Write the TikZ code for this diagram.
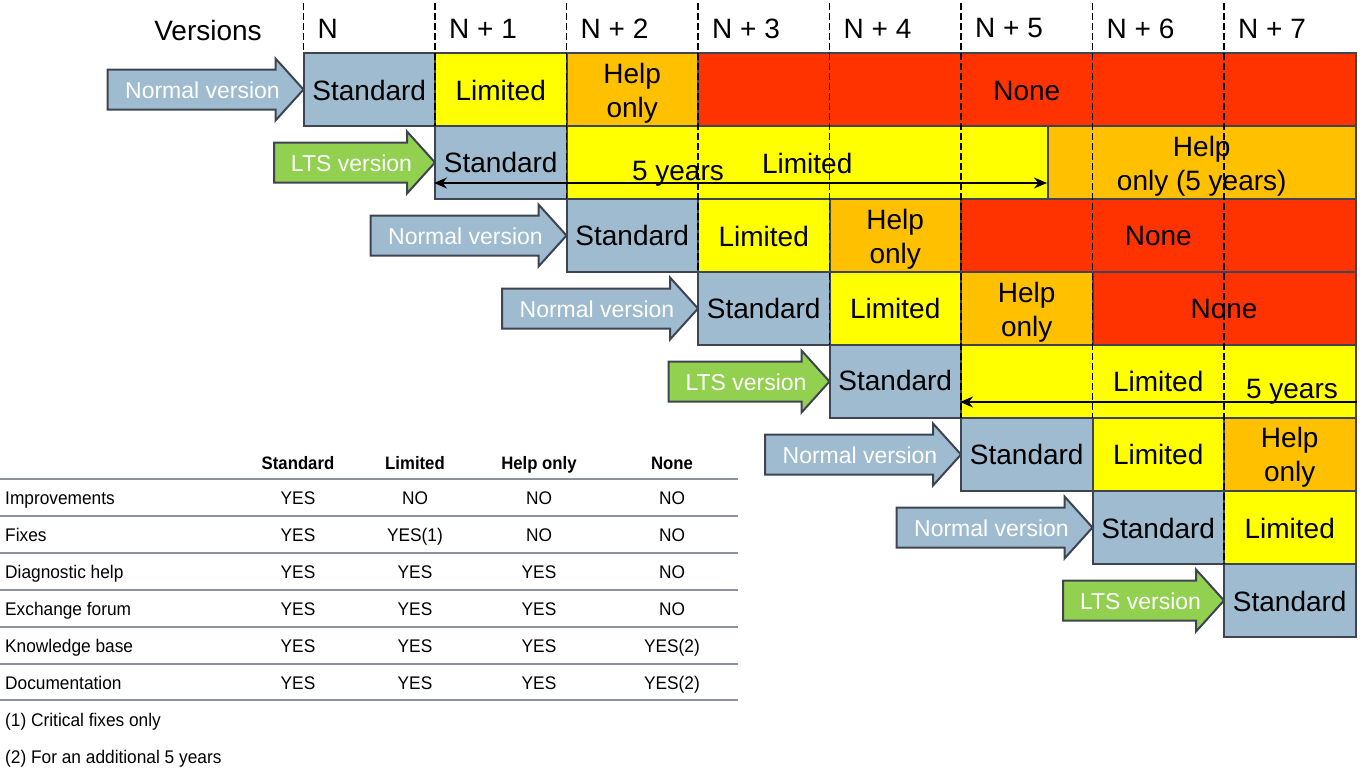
\documentclass[tikz,border=0pt]{standalone}
\usepackage{fontspec}
\setmainfont{Liberation Sans}
\newfontfamily\tabfont[FakeStretch=0.945]{Liberation Sans}
\newfontfamily\tabheadfont[FakeStretch=0.93]{Liberation Sans}
\usetikzlibrary{arrows.meta}
\definecolor{stdblue}{RGB}{158,187,208}
\definecolor{ltsgreen}{RGB}{146,208,80}
\definecolor{limyellow}{RGB}{255,255,0}
\definecolor{helporange}{RGB}{255,192,0}
\definecolor{nonered}{RGB}{255,51,0}
\definecolor{edgegray}{RGB}{62,68,82}
\definecolor{rulegray}{RGB}{140,146,156}
\tikzset{
  cellbox/.style={draw=edgegray, line width=2pt, minimum height=73pt, inner sep=0pt},
  celltext/.style={align=center, text=black, inner sep=0pt, font=\fontsize{28}{34}\selectfont},
  arrowbody/.style={draw=edgegray, line width=2pt},
  arrowtext/.style={text=white, font=\fontsize{23}{27}\selectfont, inner sep=0pt},
  bigtext/.style={text=black, font=\fontsize{28}{34}\selectfont, inner sep=0pt},
  vguide/.style={black, line width=1.4pt, dash pattern=on 6.5pt off 3.5pt},
  spanarrow/.style={black, line width=2pt},
  tabtext/.style={font=\tabfont\fontsize{18.3}{22}\selectfont, inner sep=0pt, anchor=base},
  tabhead/.style={font=\tabheadfont\bfseries\fontsize{18}{22}\selectfont, inner sep=0pt, anchor=base},
  tabrule/.style={draw=rulegray, line width=2pt}
}
% cell: name, from column, to column, row, colour, text, text shift
\newcommand\cell[7]{%
  \pgfmathsetmacro\cxa{303.5+131.5*#2}%
  \pgfmathsetmacro\cxb{303.5+131.5*#3}%
  \pgfmathsetmacro\cxm{(\cxa+\cxb)/2}%
  \pgfmathsetmacro\cy{53+73*#4+36.5}%
  \pgfmathsetmacro\cw{\cxb-\cxa}%
  \node[cellbox, fill=#5, minimum width=\cw pt] (#1) at (\cxm,\cy) {};
  \node[celltext] (#1t) at (\cxm,\cy+#7) {#6};}
% version arrow: name, column of tip, row, length, colour, text
\newcommand\verarrow[6]{%
  \pgfmathsetmacro\tx{303.5+131.5*#2}%
  \pgfmathsetmacro\ty{53+73*#3+36.5}%
  \pgfmathsetmacro\sx{\tx-#4}%
  \pgfmathsetmacro\hx{\tx-28}%
  \draw[arrowbody, fill=#5] (\sx,\ty-20) -- (\hx,\ty-20) -- (\hx,\ty-31) -- (\tx,\ty)
     -- (\hx,\ty+31) -- (\hx,\ty+20) -- (\sx,\ty+20) -- cycle;
  \node[arrowtext] (#1) at (\tx-#4/2-3,\ty+1) {#6};}
\begin{document}
\begin{tikzpicture}[x=1pt,y=-1pt]
\useasboundingbox (0,0) rectangle (1369,780);
\fill[white] (0,0) rectangle (1369,780);

% header
\node[bigtext] (versions) at (208,30) {Versions};
\foreach \k/\lab in {0/N,1/N + 1,2/N + 2,3/N + 3,4/N + 4,5/N + 5,6/N + 6,7/N + 7}{
  \node[bigtext, anchor=west] (lab\k) at (303.5+131.5*\k+14,28.5) {\lab};
}

% row 1
\verarrow{a1}{0}{0}{196}{stdblue}{Normal version}
\cell{r1s}{0}{1}{0}{stdblue}{Standard}{1}
\cell{r1l}{1}{2}{0}{limyellow}{Limited}{1}
\cell{r1h}{2}{3}{0}{helporange}{Help\\only}{4}
\cell{r1n}{3}{8}{0}{nonered}{None}{1}
% row 2
\verarrow{a2}{1}{1}{161}{ltsgreen}{LTS version}
\cell{r2s}{1}{2}{1}{stdblue}{Standard}{0}
\cell{r2l}{2}{5.6616}{1}{limyellow}{Limited}{0.5}
\cell{r2h}{5.6616}{8}{1}{helporange}{Help\\only (5 years)}{3.5}
% row 3
\verarrow{a3}{2}{2}{196}{stdblue}{Normal version}
\cell{r3s}{2}{3}{2}{stdblue}{Standard}{0}
\cell{r3l}{3}{4}{2}{limyellow}{Limited}{0.5}
\cell{r3h}{4}{5}{2}{helporange}{Help\\only}{3.5}
\cell{r3n}{5}{8}{2}{nonered}{None}{0}
% row 4
\verarrow{a4}{3}{3}{196}{stdblue}{Normal version}
\cell{r4s}{3}{4}{3}{stdblue}{Standard}{0}
\cell{r4l}{4}{5}{3}{limyellow}{Limited}{0}
\cell{r4h}{5}{6}{3}{helporange}{Help\\only}{3.5}
\cell{r4n}{6}{8}{3}{nonered}{None}{0}
% row 5
\verarrow{a5}{4}{4}{161}{ltsgreen}{LTS version}
\cell{r5s}{4}{5}{4}{stdblue}{Standard}{-1}
\cell{r5l}{5}{8}{4}{limyellow}{Limited}{-0.5}
% row 6
\verarrow{a6}{5}{5}{196}{stdblue}{Normal version}
\cell{r6s}{5}{6}{5}{stdblue}{Standard}{0}
\cell{r6l}{6}{7}{5}{limyellow}{Limited}{0}
\cell{r6h}{7}{8}{5}{helporange}{Help\\only}{3}
% row 7
\verarrow{a7}{6}{6}{196}{stdblue}{Normal version}
\cell{r7s}{6}{7}{6}{stdblue}{Standard}{1}
\cell{r7l}{7}{8}{6}{limyellow}{Limited}{1}
% row 8
\verarrow{a8}{7}{7}{161}{ltsgreen}{LTS version}
\cell{r8s}{7}{8}{7}{stdblue}{Standard}{1}

% vertical dashed guides
\foreach \k/\e in {0/53,1/126,2/199,3/272,4/345,5/418,6/418,7/564}{
  \coordinate (gt\k) at (303.5+131.5*\k,3);
  \coordinate (gb\k) at (303.5+131.5*\k,\e);
  \draw[vguide] (gt\k) -- (gb\k);
}

% 5 years spans
\coordinate (s1a) at (r2s.west |- 0,183);
\coordinate (s1b) at (r2h.west |- 0,183);
\draw[spanarrow, {Stealth[length=13pt,width=11pt]}-{Stealth[length=13pt,width=11pt]}] (s1a) -- (s1b);
\node[bigtext] (y1) at (678,173.5) {5 years};
\coordinate (s2a) at (r5l.east |- 0,402);
\coordinate (s2b) at (r5l.west |- 0,402);
\draw[spanarrow, -{Stealth[length=13pt,width=11pt]}] (s2a) -- (s2b);
\node[bigtext] (y2) at (1292,392) {5 years};

% table
\node[tabhead] (hs) at (298,469.5) {Standard};
\node[tabhead] (hl) at (415,469.5) {Limited};
\node[tabhead] (hh) at (539,469.5) {Help only};
\node[tabhead] (hn) at (672,469.5) {None};
\foreach \yy in {479,516,553,590,627,664,700}{
  \draw[tabrule] (0,\yy) -- (738,\yy);
}
\foreach \i/\lab/\a/\b/\c/\d in {
  0/Improvements/YES/NO/NO/NO,
  1/Fixes/YES/YES(1)/NO/NO,
  2/Diagnostic help/YES/YES/YES/NO,
  3/Exchange forum/YES/YES/YES/NO,
  4/Knowledge base/YES/YES/YES/YES(2),
  5/Documentation/YES/YES/YES/YES(2)}{
  \pgfmathsetmacro\ry{504.5+36.9*\i}
  \node[tabtext, anchor=base west] (tl\i) at (5,\ry) {\lab};
  \node[tabtext] (ta\i) at (298,\ry) {\a};
  \node[tabtext] (tb\i) at (415,\ry) {\b};
  \node[tabtext] (tc\i) at (539,\ry) {\c};
  \node[tabtext] (td\i) at (672,\ry) {\d};
}
\node[tabtext, anchor=base west] (f1) at (5,726) {(1) Critical fixes only};
\node[tabtext, anchor=base west] (f2) at (5,763) {(2) For an additional 5 years};
\end{tikzpicture}
\end{document}
